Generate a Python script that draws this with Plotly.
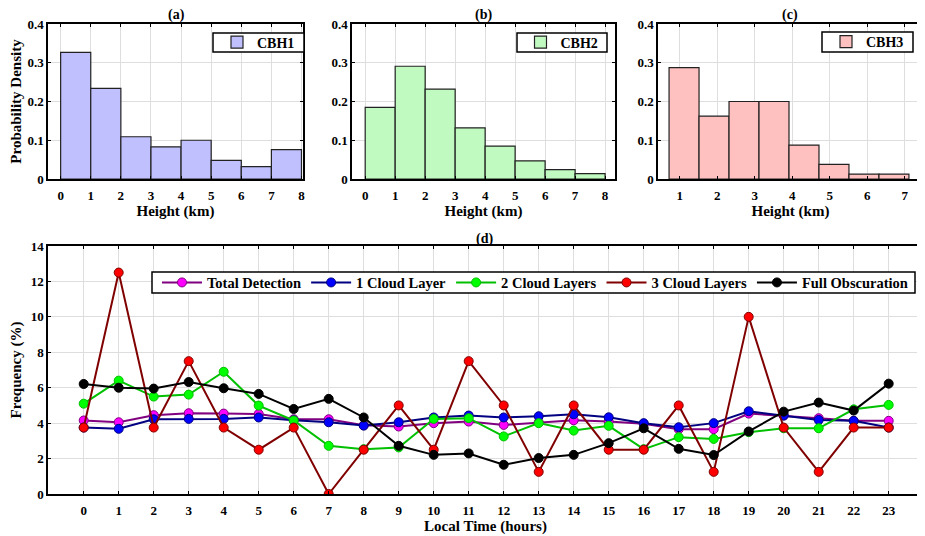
import plotly.graph_objects as go

# ---------------- data ----------------
cbh1_edges = [0, 1, 2, 3, 4, 5, 6, 7, 8]
cbh1_vals = [0.327, 0.234, 0.109, 0.083, 0.100, 0.048, 0.032, 0.076]

cbh2_edges = [0, 1, 2, 3, 4, 5, 6, 7, 8]
cbh2_vals = [0.185, 0.291, 0.232, 0.132, 0.085, 0.047, 0.024, 0.014]

cbh3_edges = [0.715, 1.515, 2.315, 3.115, 3.915, 4.715, 5.515, 6.315, 7.115]
cbh3_vals = [0.2875, 0.1625, 0.200, 0.200, 0.0875, 0.0375, 0.0125, 0.0125]

hours = list(range(24))
total_detection = [4.15, 4.05, 4.45, 4.56, 4.54, 4.52, 4.22, 4.22, 3.88, 3.81, 4.00, 4.09,
                   3.90, 4.05, 4.16, 4.09, 3.96, 3.66, 3.66, 4.54, 4.43, 4.28, 4.13, 4.13]
one_layer = [3.75, 3.68, 4.22, 4.24, 4.24, 4.32, 4.16, 4.05, 3.86, 4.05, 4.32, 4.43,
             4.32, 4.39, 4.50, 4.33, 4.00, 3.77, 4.00, 4.67, 4.43, 4.18, 4.13, 3.75]
two_layers = [5.10, 6.40, 5.50, 5.61, 6.90, 4.99, 4.15, 2.72, 2.53, 2.63, 4.24, 4.28,
              3.25, 4.00, 3.58, 3.85, 2.53, 3.21, 3.11, 3.49, 3.71, 3.71, 4.78, 5.03]
three_layers = [3.75, 12.5, 3.75, 7.5, 3.75, 2.5, 3.75, 0.0, 2.5, 5.0, 2.5, 7.5,
                5.0, 1.25, 5.0, 2.5, 2.5, 5.0, 1.25, 10.0, 3.75, 1.25, 3.75, 3.75]
full_obscuration = [6.21, 6.00, 5.95, 6.32, 5.97, 5.65, 4.80, 5.37, 4.32, 2.72, 2.21, 2.29,
                    1.65, 2.03, 2.21, 2.87, 3.71, 2.55, 2.20, 3.53, 4.65, 5.16, 4.71, 6.23]

# ---------------- layout helpers ----------------
# page body has an 8px margin, so the figure starts at (8, 8) in the window
OFF = 8
W, H = 925 - OFF, 536 - OFF
FONT = "Liberation Serif, Times New Roman, DejaVu Serif, serif"


def fx(px):
    return (px - OFF) / W


def fy(py):
    return 1 - (py - OFF) / H


fig = go.Figure()


def hist(edges, vals, color, name, xa, ya, leg):
    centers = [(edges[i] + edges[i + 1]) / 2 for i in range(len(vals))]
    widths = [edges[i + 1] - edges[i] for i in range(len(vals))]
    fig.add_trace(go.Bar(x=centers, y=vals, width=widths, name=name,
                         marker=dict(color=color, line=dict(color="#222222", width=1.2)),
                         xaxis=xa, yaxis=ya, legend=leg, showlegend=True))


hist(cbh1_edges, cbh1_vals, "rgb(192,192,255)", "CBH1", "x", "y", "legend")
hist(cbh2_edges, cbh2_vals, "rgb(192,250,192)", "CBH2", "x2", "y2", "legend2")
hist(cbh3_edges, cbh3_vals, "rgb(255,192,192)", "CBH3", "x3", "y3", "legend3")

series = [
    ("Total Detection", total_detection, "#800080", "#ff00ff"),
    ("1 Cloud Layer", one_layer, "#000080", "#0000ff"),
    ("2 Cloud Layers", two_layers, "#00c000", "#00ff00"),
    ("3 Cloud Layers", three_layers, "#800000", "#ff0000"),
    ("Full Obscuration", full_obscuration, "#000000", "#000000"),
]
for name, vals, lc, mc in series:
    fig.add_trace(go.Scatter(x=hours, y=vals, name=name, mode="lines+markers",
                             line=dict(color=lc, width=2),
                             marker=dict(color=mc, size=9, line=dict(color=lc, width=1)),
                             xaxis="x4", yaxis="y4", legend="legend4"))

tickfont = dict(family=FONT, size=13, color="black", weight="bold")
titlefont = dict(family=FONT, size=15, color="black", weight="bold")


def axstyle(**kw):
    d = dict(showline=True, linecolor="black", linewidth=1.5, mirror="ticks",
             ticks="inside", ticklen=3, tickcolor="black", tickwidth=1,
             showgrid=True, gridcolor="#dedede", gridwidth=1, zeroline=False,
             tickfont=tickfont, title_font=titlefont, automargin=False)
    d.update(kw)
    return d


top_y = [fy(179), fy(24)]
fig.update_layout(
    width=W, height=H, margin=dict(l=0, r=0, t=0, b=0, autoexpand=False),
    paper_bgcolor="white", plot_bgcolor="white",
    font=dict(family=FONT, color="black", weight="bold"),
    barmode="overlay",
    xaxis=axstyle(domain=[fx(48), fx(303)], range=[-0.42, 8.05], tickvals=list(range(9)), anchor="y",
                  ticklabelstandoff=4, title=dict(text="Height (km)", standoff=2)),
    yaxis=axstyle(domain=top_y, range=[0, 0.4], dtick=0.1, anchor="x",
                  title=dict(text="Probability Density", standoff=6)),
    xaxis2=axstyle(domain=[fx(352), fx(615)], range=[-0.44, 8.33], tickvals=list(range(9)), anchor="y2",
                   ticklabelstandoff=4, title=dict(text="Height (km)", standoff=2)),
    yaxis2=axstyle(domain=top_y, range=[0, 0.4], dtick=0.1, anchor="x2"),
    xaxis3=axstyle(domain=[fx(658), fx(923)], range=[0.42, 7.49], tickvals=list(range(1, 8)), anchor="y3",
                   ticklabelstandoff=4, title=dict(text="Height (km)", standoff=2)),
    yaxis3=axstyle(domain=top_y, range=[0, 0.4], dtick=0.1, anchor="x3"),
    xaxis4=axstyle(domain=[fx(48), fx(923)], range=[-1.02, 23.98], tickvals=hours, anchor="y4",
                   ticklabelstandoff=4, title=dict(text="Local Time (hours)", standoff=1)),
    yaxis4=axstyle(domain=[fy(494), fy(246)], range=[0, 14], dtick=2, anchor="x4",
                   title=dict(text="Frequency (%)", standoff=6)),
)

# legend frames (white boxes with black border), legends drawn on top of them
frames = [  # (left, top, right, bottom) in window pixels
    (213, 33, 304, 52),
    (517, 33, 607, 52),
    (822, 32, 913, 52),
    (152, 272, 915, 293),
]
for l, t, r, b in frames:
    fig.add_shape(type="rect", xref="paper", yref="paper",
                  x0=fx(l), x1=fx(r), y0=fy(b), y1=fy(t),
                  line=dict(color="black", width=1.5), fillcolor="white", layer="above")

legcommon = dict(bgcolor="rgba(0,0,0,0)", borderwidth=0,
                 xanchor="center", yanchor="middle", tracegroupgap=0)
topleg = dict(font=dict(family=FONT, size=14, color="black", weight="bold"), **legcommon)
fig.update_layout(
    legend=dict(x=fx(258.5), y=fy(42.5), **topleg),
    legend2=dict(x=fx(562), y=fy(42.5), **topleg),
    legend3=dict(x=fx(867.5), y=fy(42), **topleg),
    legend4=dict(x=fx(535), y=fy(282.5), orientation="h", itemwidth=40,
                 font=dict(family=FONT, size=14.5, color="black", weight="bold"), **legcommon),
)

for txt, xp, yp in [("(a)", 176, 15), ("(b)", 483, 15), ("(c)", 790, 15), ("(d)", 485, 239)]:
    fig.add_annotation(text=txt, x=fx(xp), y=fy(yp), xref="paper", yref="paper",
                       xanchor="center", yanchor="middle", showarrow=False,
                       font=dict(family=FONT, size=14, color="black", weight="bold"))

fig.write_html("out.html")
